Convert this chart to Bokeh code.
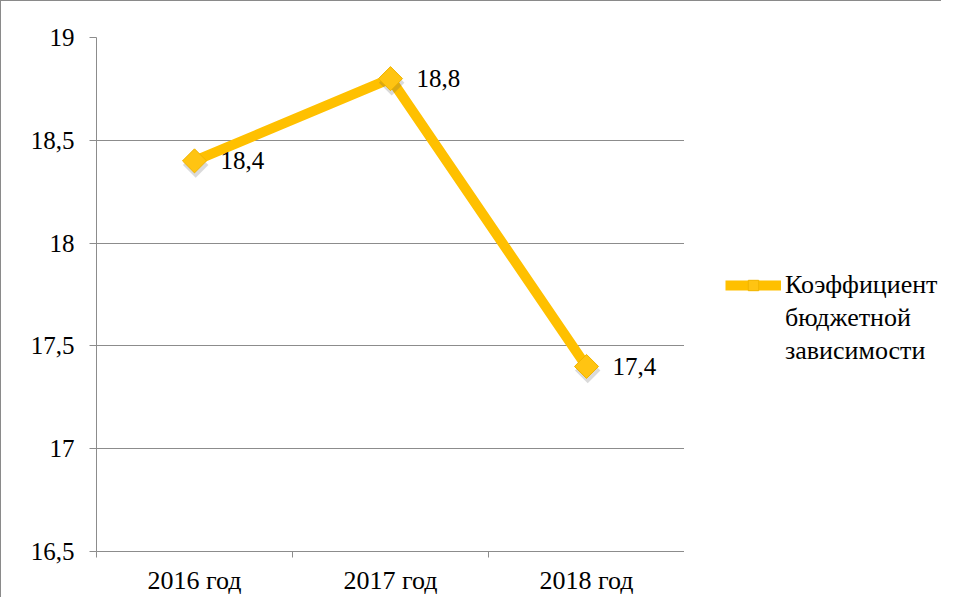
from bokeh.plotting import figure
from bokeh.layouts import row
from bokeh.models import (ColumnDataSource, FixedTicker, LabelSet, Legend, LegendItem,
                          Range1d)
from bokeh.transform import dodge
from bokeh.embed import file_html
from bokeh.resources import INLINE
import numpy as np

categories = ["2016 год", "2017 год", "2018 год"]
values = [18.4, 18.8, 17.4]
value_labels = ["18,4", "18,8", "17,4"]
y_ticks = [16.5, 17.0, 17.5, 18.0, 18.5, 19.0]
y_tick_labels = ["16,5", "17", "17,5", "18", "18,5", "19"]
series_name_lines = ["Коэффициент", "бюджетной", "зависимости"]

FONT = "Liberation Serif"
GOLD = "#FFC000"
GRID = "#8c8c8c"
H = 596

xpos = [i + 0.5 for i in range(len(categories))]
src = ColumnDataSource(dict(x=xpos, y=values, lab=value_labels))

p = figure(width=683, height=H, output_backend="svg", toolbar_location=None,
           x_range=Range1d(0, len(categories)), y_range=Range1d(16.5, 19.0),
           min_border_left=95, min_border_right=0, min_border_top=36,
           min_border_bottom=40)
p.outline_line_color = None
p.background_fill_color = "white"
p.border_fill_color = "white"

# grid
p.xgrid.grid_line_color = None
p.ygrid.grid_line_color = GRID
p.ygrid.grid_line_width = 1
p.ygrid.ticker = FixedTicker(ticks=y_ticks)

# y axis
p.yaxis.ticker = FixedTicker(ticks=y_ticks)
p.yaxis.major_label_overrides = {t: l for t, l in zip(y_ticks, y_tick_labels)}
p.yaxis.axis_line_color = GRID
p.yaxis.major_tick_line_color = GRID
p.yaxis.major_tick_out = 7
p.yaxis.major_tick_in = 0
p.yaxis.minor_tick_line_color = None
p.yaxis.major_label_standoff = 15
p.yaxis.major_label_text_font = FONT
p.yaxis.major_label_text_font_size = "25px"
p.yaxis.major_label_text_color = "black"

# x axis
p.xaxis.ticker = FixedTicker(ticks=xpos, minor_ticks=list(range(len(categories) + 1)))
p.xaxis.major_label_overrides = {x: c for x, c in zip(xpos, categories)}
p.xaxis.axis_line_color = GRID
p.xaxis.major_tick_line_color = None
p.xaxis.minor_tick_line_color = GRID
p.xaxis.minor_tick_out = 6
p.xaxis.minor_tick_in = 0
p.xaxis.major_label_standoff = 8
p.xaxis.major_label_text_font = FONT
p.xaxis.major_label_text_font_size = "26px"
p.xaxis.major_label_text_color = "black"

# series
ln_kw = dict(line_color=GOLD, line_width=10, line_join="round")
mk_kw = dict(marker="square", size=17, angle=np.pi / 4,
             fill_color="#FFC412", line_color="#F0B400", line_width=1)
p.line("x", "y", source=src, **ln_kw)
p.scatter(dodge("x", 0.006, range=p.x_range), dodge("y", -0.02, range=p.y_range),
          source=src, marker="square", size=18, angle=np.pi / 4,
          fill_color="#555555", fill_alpha=0.22, line_color=None)
p.scatter("x", "y", source=src, **mk_kw)

labels = LabelSet(x="x", y="y", text="lab", source=src, x_offset=26, y_offset=0,
                  text_font=FONT, text_font_size="25px", text_color="black",
                  text_baseline="middle", text_align="left")
p.add_layout(labels)

# legend panel (separate figure; its renderers use the same data, outside its view)
q = figure(width=257, height=H, output_backend="svg", toolbar_location=None,
           x_range=Range1d(-10, -9), y_range=Range1d(-10, -9),
           min_border_left=0, min_border_right=0, min_border_top=36,
           min_border_bottom=44)
q.axis.visible = False
q.grid.visible = False
q.outline_line_color = None
q.background_fill_color = "white"
q.border_fill_color = "white"
lq = q.line("x", "y", source=src, **ln_kw)
sq = q.scatter("x", "y", source=src, **mk_kw)
d1 = q.line("x", "y", source=src, line_alpha=0)
d2 = q.line("x", "y", source=src, line_alpha=0)
items = [LegendItem(label=series_name_lines[0], renderers=[lq, sq]),
         LegendItem(label=series_name_lines[1], renderers=[d1]),
         LegendItem(label=series_name_lines[2], renderers=[d2])]
legend = Legend(items=items, location=(41, 185), padding=0, spacing=3,
                glyph_width=56, glyph_height=26, label_height=29,
                label_standoff=4, border_line_color=None,
                background_fill_alpha=0, label_text_font=FONT,
                label_text_font_size="26px", label_text_color="black",
                margin=0)
q.add_layout(legend)

page = row(p, q, styles={"border-top": "1.5px solid #8a8a8a",
                         "border-left": "1.5px solid #8a8a8a"})

open("out.html", "w").write(file_html(page, INLINE))
